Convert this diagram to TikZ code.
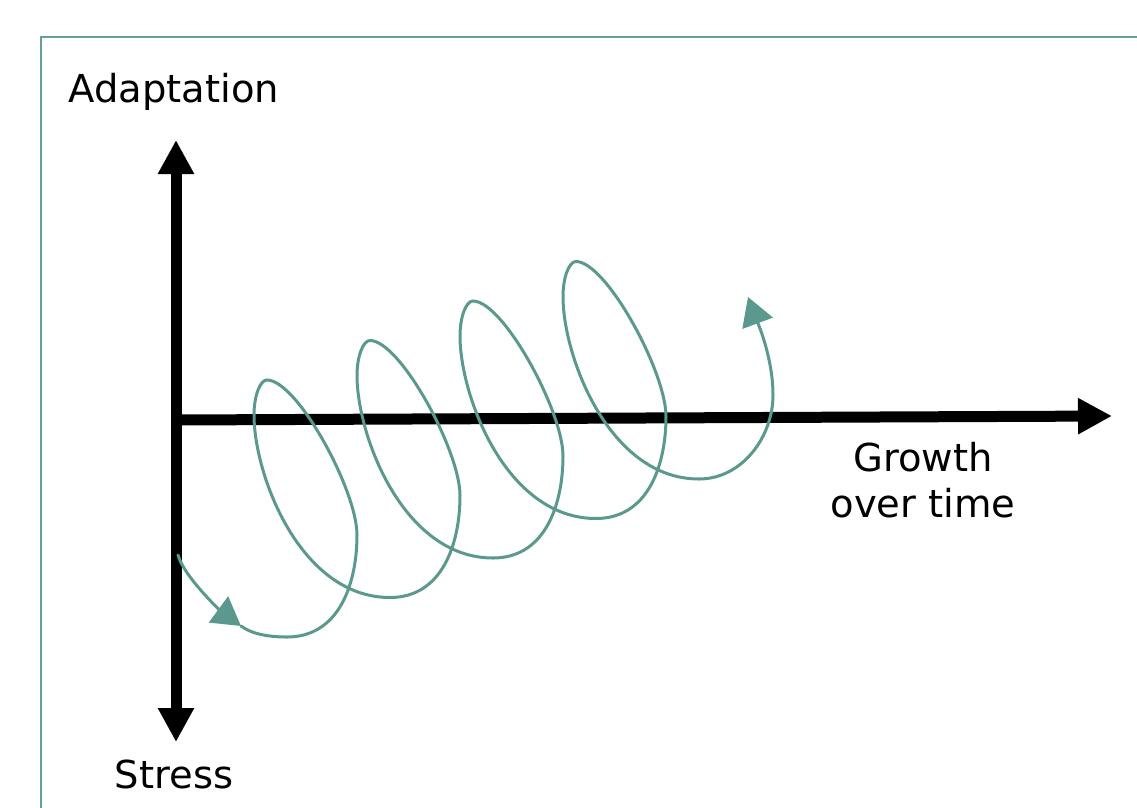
\documentclass[tikz,border=0pt]{standalone}
\usepackage{fontspec}
\setmainfont{DejaVu Sans}
\usetikzlibrary{arrows.meta}

\definecolor{spiralteal}{RGB}{91,152,142}
\definecolor{framegreen}{RGB}{104,158,150}

\tikzset{
  axtip/.tip={Triangle[length=0.34cm,width=0.34cm]},
  sptip/.tip={Triangle[length=0.28cm,width=0.32cm]},
  axisline/.style={line width=0.11cm, black},
  spiral/.style={line width=0.03cm, spiralteal, line cap=round},
  frameline/.style={line width=0.02cm, framegreen},
}

\begin{document}
\begin{tikzpicture}[every node/.style={font=\fontsize{10.95}{13.1}\selectfont}]
  \useasboundingbox (0,0) rectangle (11.37,8.07);

  % frame
  \draw[frameline] (0.41,-0.2) -- (0.41,7.70) -- (11.6,7.70);

  % axes
  \coordinate (origin) at (1.76,3.87);
  \coordinate (ytop) at (1.76,6.67);
  \coordinate (ybot) at (1.76,0.65);
  \coordinate (xend) at (11.12,3.91);
  \draw[axisline, axtip-axtip] (ybot) -- (ytop);
  \draw[axisline, -axtip] (origin) -- (xend);

  % labels
  \node[anchor=base] (adapt) at (1.74,7.05) {Adaptation};
  \node[anchor=base] (stress) at (1.74,0.19) {Stress};
  \node[align=center] (growth) at (9.23,3.27) {Growth\\over time};

  % spiral: lead-in, four loops, lead-out
  \coordinate (sstart) at (1.78,2.52);
  \coordinate (stip) at (2.41,1.81);
  \coordinate (b1) at (2.87,1.70);
  \draw[spiral, -sptip] (sstart) .. controls (1.84,2.30) and (2.22,1.95) .. (stip);
  \draw[spiral] (stip) .. controls (2.53,1.72) and (2.72,1.70) .. (b1);
  \foreach \k in {0,...,3} {
    \draw[spiral, shift={(\k*1.03,\k*0.395)}] (2.87,1.70)
      .. controls (3.40,1.70) and (3.57,2.25) .. (3.57,2.72)
      .. controls (3.57,3.17) and (2.97,4.27) .. (2.67,4.27)
      .. controls (2.60,4.27) and (2.54,4.11) .. (2.54,3.92)
      .. controls (2.54,3.32) and (3.00,2.095) .. (3.90,2.095);
  }
  \coordinate (b5) at (6.99,3.28);
  \coordinate (etip) at (7.48,5.10);
  \draw[spiral, -sptip] (b5) .. controls (7.42,3.28) and (7.73,3.70) .. (7.73,4.12)
    .. controls (7.73,4.52) and (7.55,4.91) .. (etip);
\end{tikzpicture}
\end{document}
